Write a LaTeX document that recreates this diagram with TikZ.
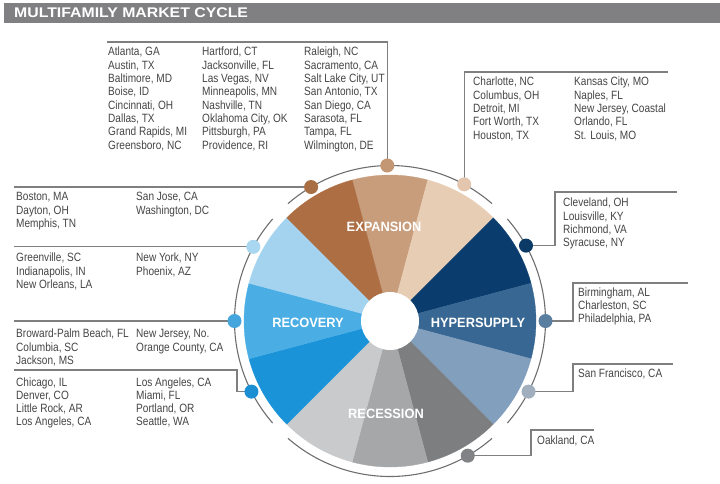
\documentclass[tikz,border=0pt]{standalone}
\usepackage{fontspec}
\newfontfamily\cityfont{Liberation Sans}[FakeStretch=0.84]
\newfontfamily\titlefont{Liberation Sans}[FakeStretch=1.13]
\newfontfamily\labfont{Liberation Sans}[FakeStretch=0.95]
\definecolor{barcol}{HTML}{808082}
\definecolor{txtgray}{HTML}{444446}
\definecolor{linegray}{HTML}{7E7F81}
\definecolor{ringgray}{HTML}{6D6E70}
\definecolor{wTanMid}{HTML}{C89D7C}
\definecolor{wTanLight}{HTML}{E8CDB5}
\definecolor{wNavy}{HTML}{0A3D6E}
\definecolor{wSteel}{HTML}{376792}
\definecolor{wGrayBlue}{HTML}{829FBD}
\definecolor{wDarkGray}{HTML}{7D7E80}
\definecolor{wMidGray}{HTML}{A6A7A9}
\definecolor{wLightGray}{HTML}{C9CACC}
\definecolor{wBlue}{HTML}{1A93D9}
\definecolor{wBlueMid}{HTML}{4AAEE5}
\definecolor{wBlueLight}{HTML}{A3D3EF}
\definecolor{wBrown}{HTML}{AD6E44}
\definecolor{dTop}{HTML}{C49774}
\definecolor{dBrown}{HTML}{A86E44}
\definecolor{dTan}{HTML}{E3C6AD}
\definecolor{dNavy}{HTML}{0B3A66}
\definecolor{dSteel}{HTML}{5A7EA0}
\definecolor{dGrayBlue}{HTML}{A0AEBD}
\definecolor{dGray}{HTML}{808285}
\definecolor{dBlueLight}{HTML}{A9D6F0}
\definecolor{dBlueMid}{HTML}{45A5DD}
\definecolor{dBlue}{HTML}{1A8FD4}
\newcommand\citycol[4]{%
  \foreach \t [count=\i from 0] in {#4} {\node[city] (#1-\i) at (#2,{#3+13.33*\i}) {\t};}}
\begin{document}
\begin{tikzpicture}[x=1pt,y=-1pt,
  city/.style={anchor=base west, inner sep=0pt, text=txtgray,
    font=\cityfont\fontsize{12}{13}\selectfont},
  phase/.style={anchor=base, inner sep=0pt, text=white,
    font=\labfont\bfseries\fontsize{13.5}{15}\selectfont},
  conn/.style={draw=linegray, line width=1.3pt},
  ring/.style={draw=ringgray, line width=1.1pt},
  dot/.style={circle, inner sep=0pt, minimum size=14pt}]
\useasboundingbox (0,0) rectangle (720,483);
% title bar
\fill[barcol] (4,3) rectangle (720,23);
\node[anchor=base west, inner sep=0pt, text=white,
  font=\titlefont\bfseries\fontsize{14}{16}\selectfont] (title) at (14,17.5) {MULTIFAMILY MARKET CYCLE};
% wheel
\coordinate (c) at (390,321);
\foreach \a/\cc in {75/wTanMid,45/wTanLight,15/wNavy,-15/wSteel,-45/wGrayBlue,-75/wDarkGray,
  -105/wMidGray,-135/wLightGray,-165/wBlue,-195/wBlueMid,-225/wBlueLight,-255/wBrown}
  \filldraw[fill=\cc, draw=\cc, line width=0.3pt] (c) -- ([shift={(\a:146pt)}]c)
     arc[start angle=\a, end angle=\a+30, radius=146pt] -- cycle;
\fill[white] (c) circle[radius=29pt];
% ring
\foreach \a in {49,139,229,319}
  \draw[ring] ([shift={(\a:155.5pt)}]c) arc[start angle=\a, end angle=\a+82, radius=155.5pt];
% dot positions
\coordinate (p1) at ([shift={(91:155.5pt)}]c);
\coordinate (p2) at ([shift={(120.5:155.5pt)}]c);
\coordinate (p3) at ([shift={(61.5:155.5pt)}]c);
\coordinate (p4) at ([shift={(151.5:155.5pt)}]c);
\coordinate (p5) at ([shift={(180:155.5pt)}]c);
\coordinate (p6) at ([shift={(207:155.5pt)}]c);
\coordinate (p7) at ([shift={(29:155.5pt)}]c);
\coordinate (p8) at ([shift={(0:155.5pt)}]c);
\coordinate (p9) at ([shift={(-27:155.5pt)}]c);
\coordinate (p10) at ([shift={(-60:155.5pt)}]c);
% connector end points
\coordinate (L) at (14,0);
\coordinate (e1) at (107,42);
\coordinate (e3) at (668,72);
\coordinate (k6) at (237,370);
\coordinate (k7) at (555,192);
\coordinate (e7) at (677,192);
\coordinate (k8) at (573,283);
\coordinate (e8) at (688,283);
\coordinate (k9) at (573,364);
\coordinate (e9) at (673,364);
\coordinate (k10) at (531,430);
\coordinate (e10) at (594,430);
% connectors
\draw[conn] (p1) |- (e1);
\draw[conn] (p3) |- (e3);
\draw[conn] (p2) -- (p2 -| L);
\draw[conn] (p4) -- (p4 -| L);
\draw[conn] (p5) -- (p5 -| L);
\draw[conn] (p6) -| (k6) -- (k6 -| L);
\draw[conn] (p7) -| (k7) -- (e7);
\draw[conn] (p8) -| (k8) -- (e8);
\draw[conn] (p9) -| (k9) -- (e9);
\draw[conn] (p10) -| (k10) -- (e10);
% dots
\node[dot, fill=dTop] (d1) at (p1) {};
\node[dot, fill=dBrown] (d2) at (p2) {};
\node[dot, fill=dTan] (d3) at (p3) {};
\node[dot, fill=dBlueLight] (d4) at (p4) {};
\node[dot, fill=dBlueMid] (d5) at (p5) {};
\node[dot, fill=dBlue] (d6) at (p6) {};
\node[dot, fill=dNavy] (d7) at (p7) {};
\node[dot, fill=dSteel] (d8) at (p8) {};
\node[dot, fill=dGrayBlue] (d9) at (p9) {};
\node[dot, fill=dGray] (d10) at (p10) {};
% phase labels
\node[phase] (expansion) at (384,231.7) {EXPANSION};
\node[phase] (recovery) at (308,327.7) {RECOVERY};
\node[phase] (hypersupply) at (478,327.7) {HYPERSUPPLY};
\node[phase] (recession) at (386,418.3) {RECESSION};
% city lists
\citycol{ta}{108}{55.7}{{Atlanta, GA},{Austin, TX},{Baltimore, MD},{Boise, ID},{Cincinnati, OH},{Dallas, TX},{Grand Rapids, MI},{Greensboro, NC}}
\citycol{tb}{202}{55.7}{{Hartford, CT},{Jacksonville, FL},{Las Vegas, NV},{Minneapolis, MN},{Nashville, TN},{Oklahoma City, OK},{Pittsburgh, PA},{Providence, RI}}
\citycol{tc}{304}{55.7}{{Raleigh, NC},{Sacramento, CA},{Salt Lake City, UT},{San Antonio, TX},{San Diego, CA},{Sarasota, FL},{Tampa, FL},{Wilmington, DE}}
\citycol{ua}{473}{85.7}{{Charlotte, NC},{Columbus, OH},{Detroit, MI},{Fort Worth, TX},{Houston, TX}}
\citycol{ub}{574}{85.7}{{Kansas City, MO},{Naples, FL},{New Jersey, Coastal},{Orlando, FL},{St. Louis, MO}}
\citycol{la}{16}{200.7}{{Boston, MA},{Dayton, OH},{Memphis, TN}}
\citycol{lb}{136}{200.7}{{San Jose, CA},{Washington, DC}}
\citycol{ma}{16}{261.7}{{Greenville, SC},{Indianapolis, IN},{New Orleans, LA}}
\citycol{mb}{136}{261.7}{{New York, NY},{Phoenix, AZ}}
\citycol{na}{16}{337.7}{{Broward-Palm Beach, FL},{Columbia, SC},{Jackson, MS}}
\citycol{nb}{136}{337.7}{{New Jersey, No.},{Orange County, CA}}
\citycol{oa}{16}{386}{{Chicago, IL},{Denver, CO},{Little Rock, AR},{Los Angeles, CA}}
\citycol{ob}{136}{386}{{Los Angeles, CA},{Miami, FL},{Portland, OR},{Seattle, WA}}
\citycol{ra}{563}{206.7}{{Cleveland, OH},{Louisville, KY},{Richmond, VA},{Syracuse, NY}}
\citycol{rb}{578}{296}{{Birmingham, AL},{Charleston, SC},{Philadelphia, PA}}
\citycol{rc}{578}{377.7}{{San Francisco, CA}}
\citycol{rd}{537}{444}{{Oakland, CA}}
\end{tikzpicture}
\end{document}
